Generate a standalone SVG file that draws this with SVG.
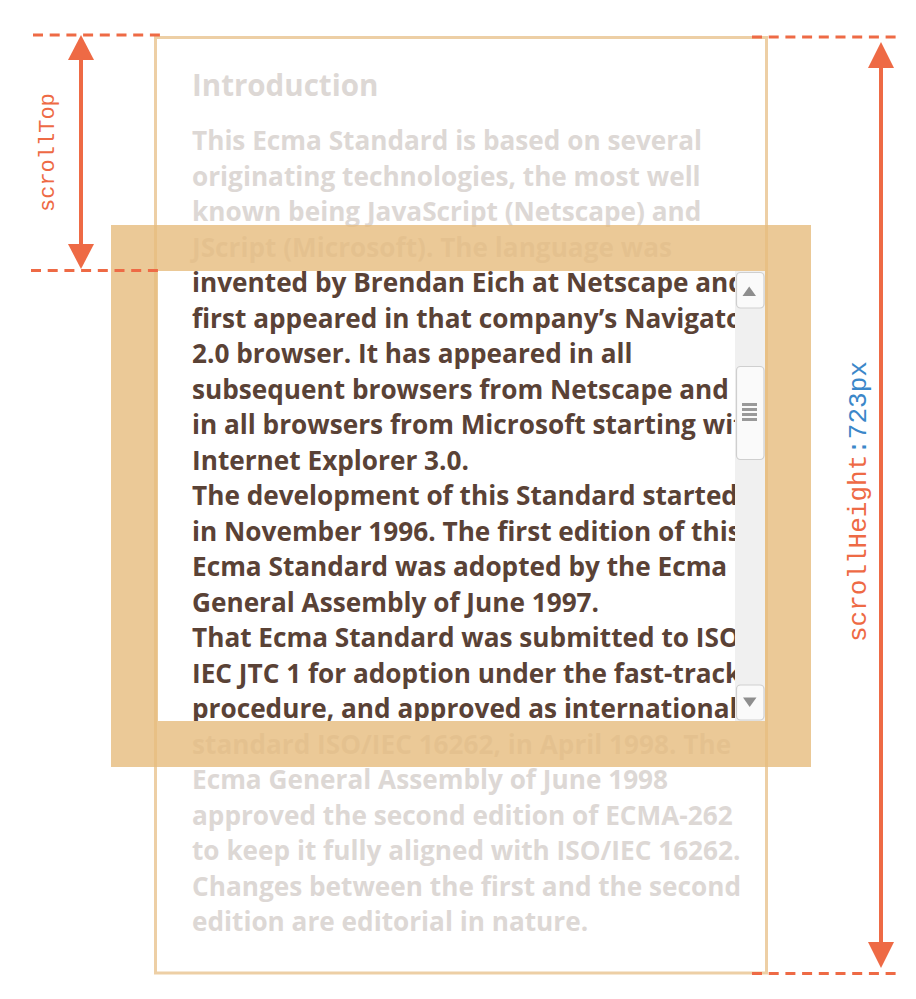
<svg xmlns="http://www.w3.org/2000/svg" width="916" height="999" viewBox="0 0 916 999">
<style>
.t{font-family:"Open Sans","Noto Sans",sans-serif;font-weight:700;font-size:26.2px}
.faint{fill:#DDD8D5}
.dark{fill:#5A4236}
.dash{stroke:#EE6A45;stroke-width:3;stroke-dasharray:10 6.7;fill:none}
.arr{stroke:#EE6A45;stroke-width:4;fill:none}
.head{fill:#EE6A45}
.mono{font-family:"Liberation Mono","Courier New",monospace}
.btn{fill:#FAFAFA;stroke:#CFCFCF;stroke-width:1.2}
.tri{fill:#8E8E8E}
</style>
<defs>
<clipPath id="view"><rect x="158" y="271" width="577" height="450"/></clipPath>
</defs>
<rect width="916" height="999" fill="#FFFFFF"/>

<g id="content-box">
<rect x="155.5" y="37.5" width="611" height="935.5" fill="none" stroke="#EDCFA5" stroke-width="3"/>
</g>

<g id="hidden-text" class="t faint">
<text x="192" y="96" font-size="29.5">Introduction</text>
<text x="192" y="150">This Ecma Standard is based on several</text>
<text x="192" y="185.5">originating technologies, the most well</text>
<text x="192" y="221">known being JavaScript (Netscape) and</text>
<text x="192" y="256.5">JScript (Microsoft). The language was</text>
<text x="192" y="753.5">standard ISO/IEC 16262, in April 1998. The</text>
<text x="192" y="789">Ecma General Assembly of June 1998</text>
<text x="192" y="824.5">approved the second edition of ECMA-262</text>
<text x="192" y="860">to keep it fully aligned with ISO/IEC 16262.</text>
<text x="192" y="895.5">Changes between the first and the second</text>
<text x="192" y="931">edition are editorial in nature.</text>
</g>

<g id="visible-text" class="t dark" clip-path="url(#view)">
<text x="192" y="292">invented by Brendan Eich at Netscape and</text>
<text x="192" y="327.5">first appeared in that company’s Navigator</text>
<text x="192" y="363">2.0 browser. It has appeared in all</text>
<text x="192" y="398.5">subsequent browsers from Netscape and</text>
<text x="192" y="434">in all browsers from Microsoft starting with</text>
<text x="192" y="469.5">Internet Explorer 3.0.</text>
<text x="192" y="505">The development of this Standard started</text>
<text x="192" y="540.5">in November 1996. The first edition of this</text>
<text x="192" y="576">Ecma Standard was adopted by the Ecma</text>
<text x="192" y="611.5">General Assembly of June 1997.</text>
<text x="192" y="647">That Ecma Standard was submitted to ISO/</text>
<text x="192" y="682.5">IEC JTC 1 for adoption under the fast-track</text>
<text x="192" y="718">procedure, and approved as international</text>
</g>

<g id="scrollbar">
<rect x="735" y="271" width="30" height="450" fill="#F0F0F0"/>
<rect x="736.5" y="272.5" width="27.5" height="35.5" rx="4" class="btn"/>
<polygon points="742.5,296 756,296 749.2,286.5" class="tri"/>
<rect x="736.5" y="366.5" width="27.5" height="93" rx="4" class="btn"/>
<rect x="742" y="403" width="15" height="3" fill="#999"/>
<rect x="742" y="408" width="15" height="3" fill="#999"/>
<rect x="742" y="413" width="15" height="3" fill="#999"/>
<rect x="742" y="418" width="15" height="3" fill="#999"/>
<rect x="736.5" y="685" width="27.5" height="35" rx="4" class="btn"/>
<polygon points="743,697.5 756.5,697.5 749.7,707" class="tri"/>
</g>

<g id="element-frame">
<path d="M111,225 H811 V767 H111 Z M158,271 V721 H765 V271 Z" fill="#E6BB7D" fill-opacity="0.8" fill-rule="evenodd"/>
</g>

<g id="connectors">
<line x1="33" y1="35" x2="160" y2="35" class="dash"/>
<line x1="31" y1="270.5" x2="158" y2="270.5" class="dash"/>
<line x1="81" y1="55" x2="81" y2="250" class="arr"/>
<polygon points="81,35 68,60 94,60" class="head"/>
<polygon points="81,269 68,244 94,244" class="head"/>
<line x1="752" y1="37" x2="896" y2="37" class="dash"/>
<line x1="752" y1="973.5" x2="896" y2="973.5" class="dash"/>
<line x1="881" y1="60" x2="881" y2="950" class="arr"/>
<polygon points="881,42 868,68 894,68" class="head"/>
<polygon points="881,968 868,942 894,942" class="head"/>
</g>

<g id="label-scrollTop">
<text class="mono" font-size="22" fill="#EE6A45" transform="translate(54,212) rotate(-90)">scrollTop</text>
</g>
<g id="label-scrollHeight">
<text class="mono" font-size="26" fill="#EE6A45" transform="translate(866,642) rotate(-90)">scrollHeight<tspan fill="#3B87C9">:723px</tspan></text>
</g>
</svg>
